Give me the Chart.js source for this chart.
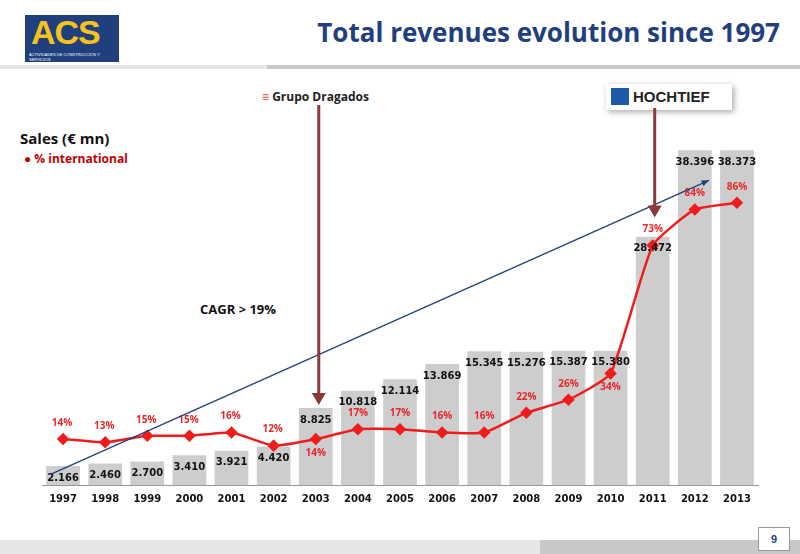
<!DOCTYPE html>
<html><head><meta charset="utf-8">
<script src="https://cdn.jsdelivr.net/npm/chart.js@4/dist/chart.umd.min.js"></script>
<style>
body{margin:0;width:800px;height:554px;position:relative;background:#fff;font-family:Calibri,"Liberation Sans",Arial,sans-serif;overflow:hidden}
#c{position:absolute;left:0;top:0}
.abs{position:absolute}
</style></head><body>
<div class="abs" style="left:25px;top:15px;width:94px;height:47px;background:#1f3f7d;">
 <div class="abs" style="left:6px;top:-2px;font:bold 34px 'Liberation Sans',Arial;color:#f7c21b;letter-spacing:-1px">ACS</div>
 <div class="abs" style="left:4px;top:37px;font:4px Arial;color:#fff">ACTIVIDADES DE CONSTRUCCIÓN Y SERVICIOS</div>
</div>
<div class="abs" style="right:20px;top:14px;font:bold 26px 'Open Sans',Arial;color:#1f3f7d">Total revenues evolution since 1997</div>
<div class="abs" style="left:0;top:65px;width:267px;height:4px;background:#e6e6e6"></div>
<div class="abs" style="left:267px;top:65px;width:533px;height:4px;background:#c8c8c8"></div>
<div class="abs" style="left:20px;top:128px;font:bold 15px 'Open Sans',Arial;color:#111">Sales (€ mn)</div>
<div class="abs" style="left:24px;top:150px;font:bold 12px 'Open Sans',Arial;color:#c00000">● % international</div>
<div class="abs" style="left:200px;top:300px;font:bold 13px 'Open Sans',Arial;color:#111">CAGR &gt; 19%</div>
<div class="abs" style="left:262px;top:88px;font:bold 12px 'Open Sans',Arial;color:#222"><span style="color:#e2522a;font-style:italic">≡</span> Grupo Dragados</div>
<div class="abs" style="left:606px;top:84px;width:126px;height:26px;background:#fff;box-shadow:2px 2px 6px #aaa;">
 <div class="abs" style="left:5px;top:4px;width:18px;height:17px;background:#1e5aa8"></div>
 <div class="abs" style="left:27px;top:4px;font:bold 15px 'Liberation Sans',Arial;color:#222">HOCHTIEF</div>
</div>
<div class="abs" style="left:0;top:540px;width:540px;height:14px;background:#e6e6e6"></div>
<div class="abs" style="left:540px;top:540px;width:260px;height:14px;background:#c8c8c8"></div>
<div class="abs" style="left:758px;top:527px;width:30px;height:22px;background:#fff;border:1px solid #999;font:bold 11px Arial;color:#1f3f7d;text-align:center;line-height:22px">9</div>
<canvas id="c" width="800" height="554"></canvas>
<script>
const years=["1997","1998","1999","2000","2001","2002","2003","2004","2005","2006","2007","2008","2009","2010","2011","2012","2013"];
const sales=[2166,2460,2700,3410,3921,4420,8825,10818,12114,13869,15345,15276,15387,15380,28472,38396,38373];
const salesLabels=["2.166","2.460","2.700","3.410","3.921","4.420","8.825","10.818","12.114","13.869","15.345","15.276","15.387","15.380","28.472","38.396","38.373"];
const intl=[14,13,15,15,16,12,14,17,17,16,16,22,26,34,73,84,86];
const pctBelow=[0,0,0,0,0,0,1,0,0,0,0,0,0,1,0,0,0];
const deco={id:'deco',afterDatasetsDraw(ch){
 const c=ch.ctx,x=ch.scales.x,y=ch.scales.y,y2=ch.scales.y2;
 c.save();
 c.font="bold 10px 'DejaVu Sans',Arial";c.textAlign='center';c.textBaseline='middle';c.fillStyle='#111';
 sales.forEach((v,i)=>c.fillText(salesLabels[i],x.getPixelForValue(i),y.getPixelForValue(v)+12));
 c.font="bold 10px 'Open Sans',Arial";c.fillStyle='#e8262a';
 intl.forEach((v,i)=>{const px=x.getPixelForValue(i)+(i<6?-1:0),py=y2.getPixelForValue(v);c.fillText(v+'%',px,pctBelow[i]?py+14:py-16);});
 const x0=x.getPixelForValue(0)-12,yy0=y.getPixelForValue(sales[0])+8,x1=x.getPixelForValue(16)-28,yy1=y.getPixelForValue(sales[16])+30;
 c.strokeStyle='#1f3f7d';c.fillStyle='#1f3f7d';c.lineWidth=1.2;c.beginPath();c.moveTo(x0,yy0);c.lineTo(x1,yy1);c.stroke();
 const a=Math.atan2(yy1-yy0,x1-x0);c.beginPath();c.moveTo(x1,yy1);c.lineTo(x1-8*Math.cos(a-0.4),yy1-8*Math.sin(a-0.4));c.lineTo(x1-8*Math.cos(a+0.4),yy1-8*Math.sin(a+0.4));c.fill();
 const arr=(px,ya,yb)=>{c.strokeStyle='#8b3a3a';c.fillStyle='#8b3a3a';c.lineWidth=3;c.beginPath();c.moveTo(px,ya);c.lineTo(px,yb-10);c.stroke();c.beginPath();c.moveTo(px,yb);c.lineTo(px-7,yb-12);c.lineTo(px+7,yb-12);c.fill();};
 arr(x.getPixelForValue(6)+3,105,y.getPixelForValue(sales[6])-3);
 arr(x.getPixelForValue(14)+2,108,y2.getPixelForValue(intl[14])-28);
 c.restore();}};
new Chart(document.getElementById('c'),{
 data:{labels:years,datasets:[
  {type:'line',data:intl,yAxisID:'y2',borderColor:'#ee1c1c',backgroundColor:'#ee1c1c',borderWidth:2.5,pointStyle:'rectRot',pointRadius:4.5,tension:0.15,order:0},
  {type:'bar',data:sales,yAxisID:'y',backgroundColor:'#cdcdcd',categoryPercentage:1,barPercentage:0.8,order:1}]},
 options:{responsive:false,animation:false,devicePixelRatio:1,
  layout:{padding:{left:42,right:42,top:110,bottom:45}},
  plugins:{legend:{display:false},tooltip:{enabled:false}},
  scales:{
   x:{grid:{display:false,drawTicks:true,tickLength:4},border:{color:'#999'},ticks:{color:'#111',font:{family:"'DejaVu Sans',Arial",size:10,weight:'bold'},padding:4}},
   y:{display:false,min:0,max:43000},
   y2:{display:false,min:0,max:114.3}}},
 plugins:[deco]});
</script></body></html>
